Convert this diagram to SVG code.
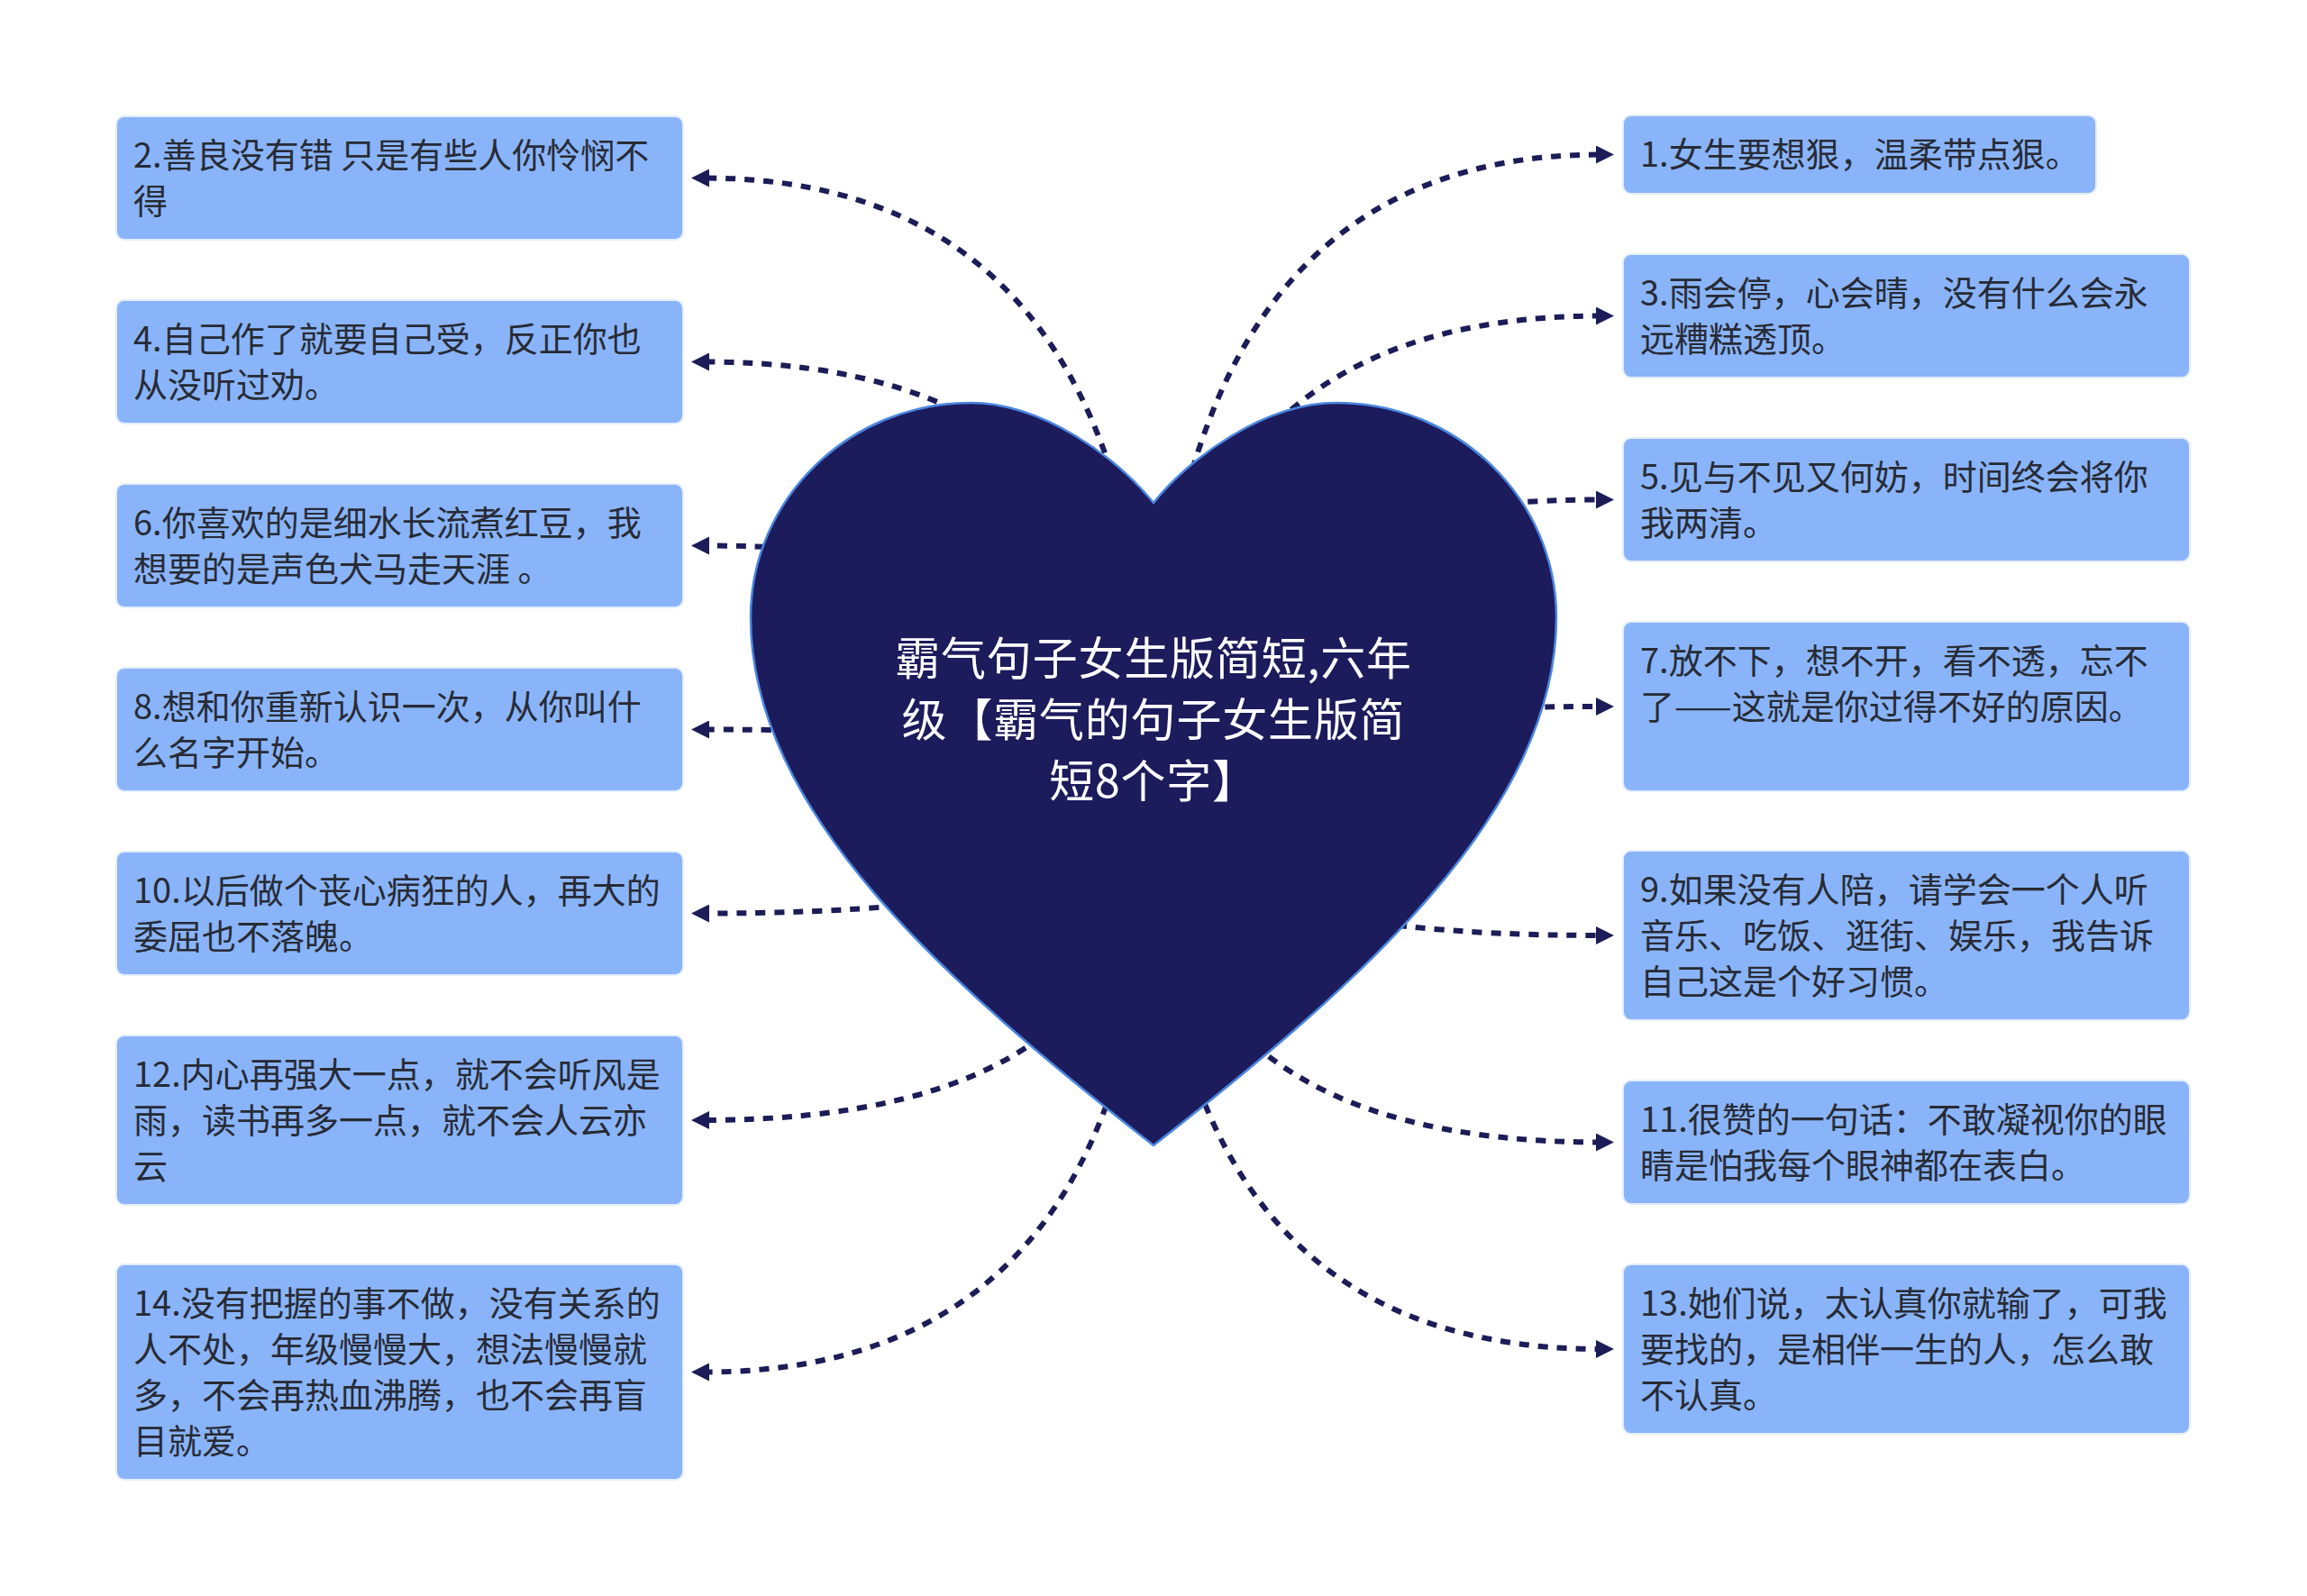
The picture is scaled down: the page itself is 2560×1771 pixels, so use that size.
<svg xmlns="http://www.w3.org/2000/svg" width="2560" height="1771" viewBox="0 0 2560 1771">
<style>
.box{fill:#8ab4f9;stroke:#e3edfd;stroke-width:2}
.t{font-family:"Noto Sans CJK SC","Noto Sans",sans-serif;font-size:38px;fill:#272b35}
.root{font-family:"Noto Sans CJK SC","Noto Sans",sans-serif;font-size:50px;letter-spacing:0.8px;fill:#ffffff;text-anchor:middle}
.c{fill:none;stroke:#1c1c58;stroke-width:6;stroke-dasharray:11 10;marker-end:url(#arr)}
</style>
<defs>
<marker id="arr" viewBox="0 0 20 20" refX="6" refY="10" markerWidth="20" markerHeight="20" markerUnits="userSpaceOnUse" orient="auto">
<path d="M0,0 L20,10 L0,20 z" fill="#1c1c58"/>
</marker>
</defs>
<rect width="2560" height="1771" fill="#ffffff"/>
<g id="connectors">
<path class="c" d="M1280,875 Q1280,171.5 1777,171.5"/>
<path class="c" d="M1280,875 Q1280,350.5 1777,350.5"/>
<path class="c" d="M1280,875 Q1280,554.5 1777,554.5"/>
<path class="c" d="M1280,875 Q1280,784 1777,784"/>
<path class="c" d="M1280,875 Q1280,1038 1777,1038"/>
<path class="c" d="M1280,875 Q1280,1267.5 1777,1267.5"/>
<path class="c" d="M1280,875 Q1280,1497 1777,1497"/>
<path class="c" d="M1280,875 Q1280,197.5 781,197.5"/>
<path class="c" d="M1280,875 Q1280,401.5 781,401.5"/>
<path class="c" d="M1280,875 Q1280,605.5 781,605.5"/>
<path class="c" d="M1280,875 Q1280,809.5 781,809.5"/>
<path class="c" d="M1280,875 Q1280,1013.5 781,1013.5"/>
<path class="c" d="M1280,875 Q1280,1243 781,1243"/>
<path class="c" d="M1280,875 Q1280,1522.5 781,1522.5"/>
</g>
<g id="root">
<path d="M1280,558 C1240,508 1157,447 1077,447 C942,447 833,554 833,685 C833,900 1050,1091 1280,1271 C1510,1091 1727,900 1727,685 C1727,554 1618,447 1483,447 C1403,447 1320,508 1280,558 Z" fill="#1c1b5c" stroke="#4a86e0" stroke-width="2.5"/>
<text class="root"><tspan x="1280" y="749">霸气句子女生版简短,六年</tspan><tspan x="1280" y="817">级【霸气的句子女生版简</tspan><tspan x="1280" y="885">短8个字】</tspan></text>
</g>
<g id="n1"><rect class="box" x="1801" y="128" width="525" height="87" rx="9"/><text class="t"><tspan x="1820" y="185">1.女生要想狠，温柔带点狠。</tspan></text></g>
<g id="n3"><rect class="box" x="1801" y="282" width="629" height="137" rx="9"/><text class="t"><tspan x="1820" y="339">3.雨会停，心会晴，没有什么会永</tspan><tspan x="1820" y="390">远糟糕透顶。</tspan></text></g>
<g id="n5"><rect class="box" x="1801" y="486" width="629" height="137" rx="9"/><text class="t"><tspan x="1820" y="543">5.见与不见又何妨，时间终会将你</tspan><tspan x="1820" y="594">我两清。</tspan></text></g>
<g id="n7"><rect class="box" x="1801" y="690" width="629" height="188" rx="9"/><text class="t"><tspan x="1820" y="747">7.放不下，想不开，看不透，忘不</tspan><tspan x="1820" y="798">了——这就是你过得不好的原因。</tspan></text></g>
<g id="n9"><rect class="box" x="1801" y="944" width="629" height="188" rx="9"/><text class="t"><tspan x="1820" y="1001">9.如果没有人陪，请学会一个人听</tspan><tspan x="1820" y="1052">音乐、吃饭、逛街、娱乐，我告诉</tspan><tspan x="1820" y="1103">自己这是个好习惯。</tspan></text></g>
<g id="n11"><rect class="box" x="1801" y="1199" width="629" height="137" rx="9"/><text class="t"><tspan x="1820" y="1256">11.很赞的一句话：不敢凝视你的眼</tspan><tspan x="1820" y="1307">睛是怕我每个眼神都在表白。</tspan></text></g>
<g id="n13"><rect class="box" x="1801" y="1403" width="629" height="188" rx="9"/><text class="t"><tspan x="1820" y="1460">13.她们说，太认真你就输了，可我</tspan><tspan x="1820" y="1511">要找的，是相伴一生的人，怎么敢</tspan><tspan x="1820" y="1562">不认真。</tspan></text></g>
<g id="n2"><rect class="box" x="129" y="129" width="629" height="137" rx="9"/><text class="t"><tspan x="148" y="186">2.善良没有错 只是有些人你怜悯不</tspan><tspan x="148" y="237">得</tspan></text></g>
<g id="n4"><rect class="box" x="129" y="333" width="629" height="137" rx="9"/><text class="t"><tspan x="148" y="390">4.自己作了就要自己受，反正你也</tspan><tspan x="148" y="441">从没听过劝。</tspan></text></g>
<g id="n6"><rect class="box" x="129" y="537" width="629" height="137" rx="9"/><text class="t"><tspan x="148" y="594">6.你喜欢的是细水长流煮红豆，我</tspan><tspan x="148" y="645">想要的是声色犬马走天涯 。</tspan></text></g>
<g id="n8"><rect class="box" x="129" y="741" width="629" height="137" rx="9"/><text class="t"><tspan x="148" y="798">8.想和你重新认识一次，从你叫什</tspan><tspan x="148" y="849">么名字开始。</tspan></text></g>
<g id="n10"><rect class="box" x="129" y="945" width="629" height="137" rx="9"/><text class="t"><tspan x="148" y="1002">10.以后做个丧心病狂的人，再大的</tspan><tspan x="148" y="1053">委屈也不落魄。</tspan></text></g>
<g id="n12"><rect class="box" x="129" y="1149" width="629" height="188" rx="9"/><text class="t"><tspan x="148" y="1206">12.内心再强大一点，就不会听风是</tspan><tspan x="148" y="1257">雨，读书再多一点，就不会人云亦</tspan><tspan x="148" y="1308">云</tspan></text></g>
<g id="n14"><rect class="box" x="129" y="1403" width="629" height="239" rx="9"/><text class="t"><tspan x="148" y="1460">14.没有把握的事不做，没有关系的</tspan><tspan x="148" y="1511">人不处，年级慢慢大，想法慢慢就</tspan><tspan x="148" y="1562">多，不会再热血沸腾，也不会再盲</tspan><tspan x="148" y="1613">目就爱。</tspan></text></g>
</svg>
